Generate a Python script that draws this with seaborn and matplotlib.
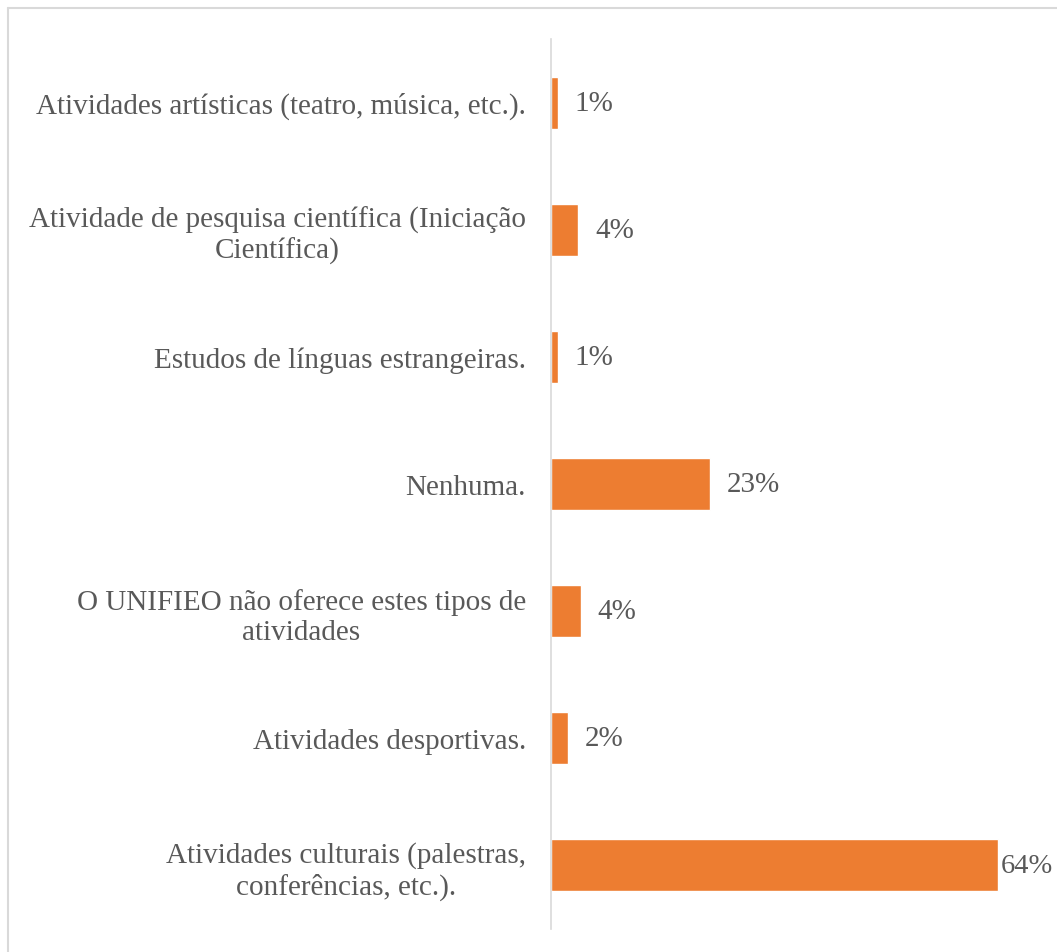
import matplotlib
matplotlib.use("Agg")
import matplotlib.pyplot as plt
import seaborn as sns
import pandas as pd
from matplotlib.lines import Line2D

categorias = [
    "Atividades artísticas (teatro, música, etc.).",
    "Atividade de pesquisa científica (Iniciação\nCientífica)",
    "Estudos de línguas estrangeiras.",
    "Nenhuma.",
    "O UNIFIEO não oferece estes tipos de\natividades",
    "Atividades desportivas.",
    "Atividades culturais (palestras,\nconferências, etc.).",
]
percentuais = [1.0, 3.9, 1.0, 22.8, 4.3, 2.4, 64.0]
rotulos = ["1%", "4%", "1%", "23%", "4%", "2%", "64%"]

df = pd.DataFrame({"categoria": categorias, "valor": percentuais})

sns.set_theme(style="white")
plt.rcParams["font.family"] = ["Liberation Serif", "DejaVu Serif"]

cinza = "#595959"
fig = plt.figure(figsize=(10.57, 9.53), dpi=100)
ax = fig.add_axes([551 / 1057, 23 / 953, 489 / 1057, 890 / 953])

sns.barplot(data=df, y="categoria", x="valor", orient="h", color="#ED7D31",
            width=0.41, ax=ax, errorbar=None, saturation=1)

anns = ax.bar_label(ax.containers[0], labels=rotulos, padding=12, fontsize=21, color=cinza)
# o rótulo da maior barra fica mais encostado, como no Excel
anns[-1].xyann = (2, 0)
anns[-1].set_fontsize(20.5)

ax.set_xlim(0, 70)
ax.set_ylim(6.5, -0.5)
ax.set_xlabel("")
ax.set_ylabel("")
ax.set_xticks([])
for s in ["top", "right", "bottom"]:
    ax.spines[s].set_visible(False)
ax.spines["left"].set_color("#d9d9d9")
ax.spines["left"].set_linewidth(1.2)
ax.tick_params(axis="y", length=0, pad=18, labelsize=21, labelcolor=cinza)
for lbl in ax.get_yticklabels():
    lbl.set_multialignment("center")

# moldura do gráfico (cortada à direita e embaixo)
fig.add_artist(Line2D([8 / 1057, 1.0], [1 - 9 / 953, 1 - 9 / 953],
                      transform=fig.transFigure, color="#d9d9d9", lw=1.5))
fig.add_artist(Line2D([8 / 1057, 8 / 1057], [0, 1 - 9 / 953],
                      transform=fig.transFigure, color="#d9d9d9", lw=1.5))

fig.savefig("out.png", dpi=100)
